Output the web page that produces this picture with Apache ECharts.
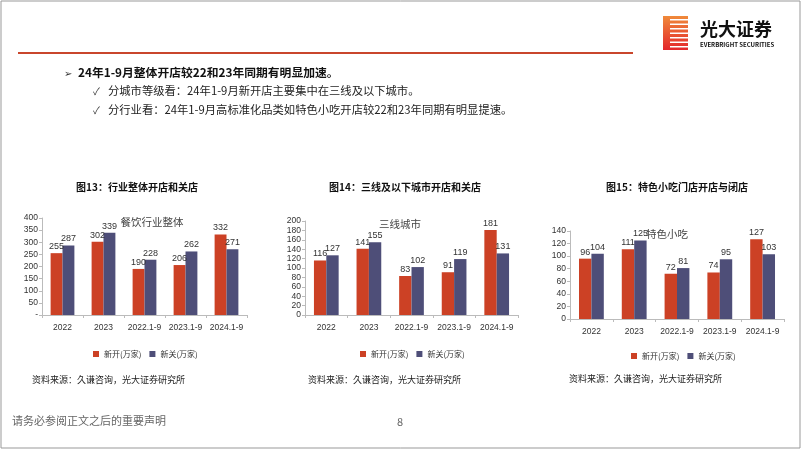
<!DOCTYPE html>
<html>
<head>
<meta charset="utf-8">
<script src="https://cdn.jsdelivr.net/npm/echarts@6/dist/echarts.min.js"></script>
<style>
  html, body { margin: 0; padding: 0; background: #fff; }
  #main { width: 802px; height: 451px; }
</style>
</head>
<body>
<div id="main"></div>
<script>
var cats = ['2022', '2023', '2022.1-9', '2023.1-9', '2024.1-9'];

// 图13 行业整体
var all_open = [255, 302, 190, 206, 332];
var all_close = [287, 339, 228, 262, 271];
// 图14 三线及以下城市
var t3_open = [116, 141, 83, 91, 181];
var t3_close = [127, 155, 102, 119, 131];
// 图15 特色小吃
var snack_open = [96, 111, 72, 74, 127];
var snack_close = [104, 125, 81, 95, 103];

var cn = '"Noto Sans CJK SC", sans-serif';
var num = '"Liberation Sans", Arial, sans-serif';
var RED = '#CC4125', PURPLE = '#4E4E78';

var chart = echarts.init(document.getElementById('main'));

function yAxis(idx, max, interval, dash) {
    return {
        gridIndex: idx, type: 'value', min: 0, max: max, interval: interval,
        axisLine: { show: true, lineStyle: { color: '#bbb' } },
        axisTick: { show: true, length: 3, lineStyle: { color: '#bbb' } },
        splitLine: { show: false },
        axisLabel: {
            fontSize: 8.5, color: '#333', fontFamily: num, margin: 4,
            formatter: function (v) { return (dash && v === 0) ? '-' : v; }
        }
    };
}
function xAxis(idx) {
    return {
        gridIndex: idx, type: 'category', data: cats,
        axisLine: { lineStyle: { color: '#bbb' } },
        axisTick: { show: true, length: 3, lineStyle: { color: '#bbb' } },
        axisLabel: { interval: 0, fontSize: 8.5, color: '#333', fontFamily: num, margin: 8 }
    };
}
function bars(idx, name, data, color) {
    return {
        name: name, type: 'bar', xAxisIndex: idx, yAxisIndex: idx,
        data: data, barGap: 0, barCategoryGap: '42%',
        itemStyle: { color: color },
        label: { show: true, position: 'top', distance: 2, fontSize: 9, color: '#333', fontFamily: num }
    };
}
function legend(cx, top) {
    return {
        left: cx, top: top, itemWidth: 6, itemHeight: 6, itemGap: 8,
        icon: 'rect', data: ['新开(万家)', '新关(万家)'],
        textStyle: { fontSize: 8, color: '#333', fontFamily: cn }
    };
}
function txt(x, y, s, size, color, weight, align) {
    return {
        type: 'text', x: x, y: y,
        style: {
            text: s, fontSize: size, fill: color || '#333', fontFamily: cn,
            fontWeight: weight || 'normal', textAlign: align || 'left', textVerticalAlign: 'middle'
        }
    };
}

var graphics = [
    { type: 'rect', shape: { x: 1, y: 1, width: 799, height: 447 }, style: { fill: 'none', stroke: '#999', lineWidth: 1 } },
    { type: 'rect', shape: { x: 18, y: 52, width: 615, height: 2 }, style: { fill: '#C9462C' } },
    // logo
    { type: 'rect', shape: { x: 663, y: 16, width: 25, height: 34 },
      style: { fill: new echarts.graphic.LinearGradient(0, 0, 0, 1, [{ offset: 0, color: '#F08A3A' }, { offset: 1, color: '#E3262B' }]) } },
    txt(700, 29, '光大证券', 18, '#111', 'bold'),
    txt(700, 45, 'EVERBRIGHT SECURITIES', 6, '#111', 'bold'),
    // bullets
    txt(64, 73, '➢', 10, '#333'),
    txt(78, 73, '24年1-9月整体开店较22和23年同期有明显加速。', 11.8, '#111', 'bold'),
    txt(93, 91, '✓', 10, '#333'),
    txt(108, 91, '分城市等级看：24年1-9月新开店主要集中在三线及以下城市。', 11.3, '#222'),
    txt(93, 110, '✓', 10, '#333'),
    txt(108, 110, '分行业看：24年1-9月高标准化品类如特色小吃开店较22和23年同期有明显提速。', 11.3, '#222'),
    // in-chart notes
    txt(152, 222, '餐饮行业整体', 10.5, '#444', 'normal', 'center'),
    txt(400, 224, '三线城市', 10.5, '#444', 'normal', 'center'),
    txt(667, 234, '特色小吃', 10.5, '#444', 'normal', 'center'),
    // sources
    txt(32, 380, '资料来源：久谦咨询，光大证券研究所', 9, '#222'),
    txt(308, 380, '资料来源：久谦咨询，光大证券研究所', 9, '#222'),
    txt(569, 379, '资料来源：久谦咨询，光大证券研究所', 9, '#222'),
    // footer
    txt(12, 421, '请务必参阅正文之后的重要声明', 11, '#666'),
    txt(400, 422, '8', 11, '#666', 'normal', 'center')
];
// white stripes in logo
for (var i = 0; i < 7; i++) {
    graphics.push({ type: 'rect', shape: { x: 670, y: 19 + i * 4.5, width: 18, height: 1.5 }, style: { fill: '#fff' } });
}

var option = {
    animation: false,
    title: [
        { text: '图13：行业整体开店和关店', left: 132, top: 177, textAlign: 'center',
          textStyle: { fontSize: 10, fontWeight: 'bold', color: '#111', fontFamily: cn } },
        { text: '图14：三线及以下城市开店和关店', left: 400, top: 177, textAlign: 'center',
          textStyle: { fontSize: 10, fontWeight: 'bold', color: '#111', fontFamily: cn } },
        { text: '图15：特色小吃门店开店与闭店', left: 672, top: 177, textAlign: 'center',
          textStyle: { fontSize: 10, fontWeight: 'bold', color: '#111', fontFamily: cn } }
    ],
    legend: [legend(88, 345), legend(355, 345), legend(626, 347)],
    grid: [
        { left: 42, top: 218, width: 205, height: 97 },
        { left: 305, top: 221, width: 213, height: 94 },
        { left: 570, top: 231, width: 214, height: 88 }
    ],
    xAxis: [xAxis(0), xAxis(1), xAxis(2)],
    yAxis: [yAxis(0, 400, 50, true), yAxis(1, 200, 20, false), yAxis(2, 140, 20, false)],
    series: [
        bars(0, '新开(万家)', all_open, RED),
        bars(0, '新关(万家)', all_close, PURPLE),
        bars(1, '新开(万家)', t3_open, RED),
        bars(1, '新关(万家)', t3_close, PURPLE),
        bars(2, '新开(万家)', snack_open, RED),
        bars(2, '新关(万家)', snack_close, PURPLE)
    ],
    graphic: graphics
};
chart.setOption(option);
</script>
</body>
</html>
